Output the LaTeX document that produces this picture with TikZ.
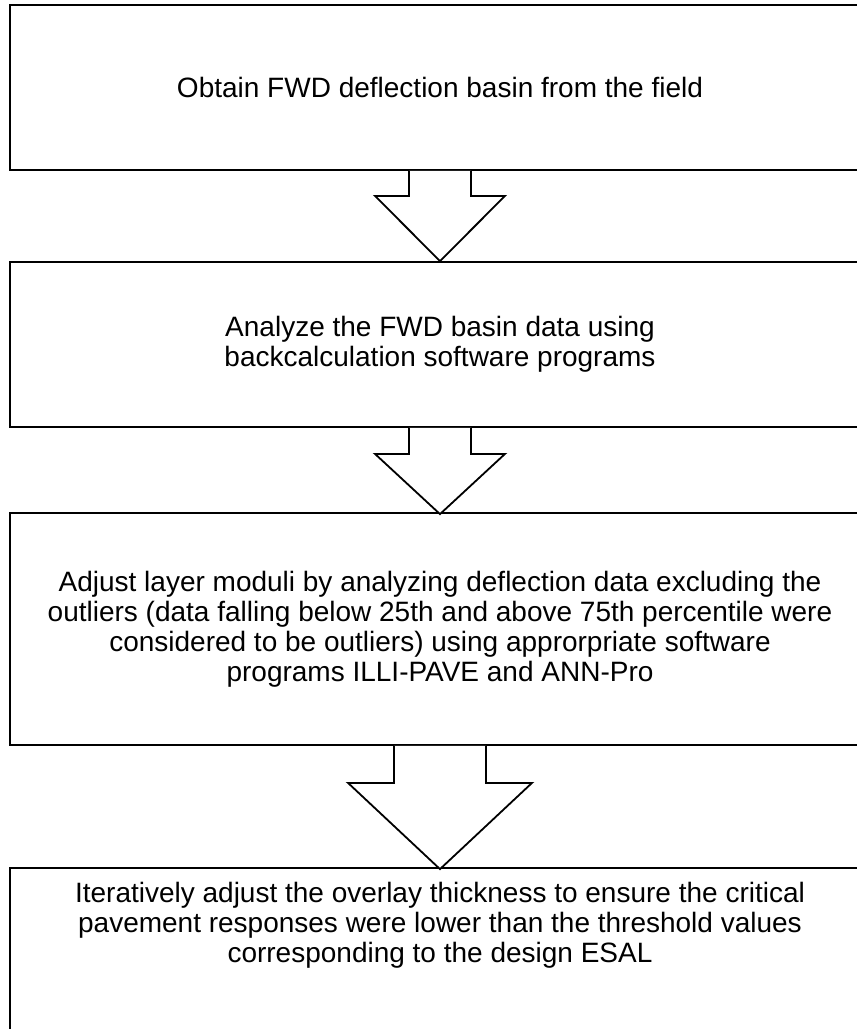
\documentclass[tikz,border=0pt]{standalone}
\usepackage{fontspec}
\setmainfont{Liberation Sans}
\usetikzlibrary{calc}
\begin{document}
\begin{tikzpicture}[x=1pt,y=-1pt,
  box/.style={draw=black,line width=1.8pt,fill=white,inner sep=0pt},
  txt/.style={align=center,font=\fontsize{28}{30}\selectfont,inner sep=0pt},
  barrow/.style={draw=black,line width=1.8pt,fill=white,line join=miter}]
\useasboundingbox (0,0) rectangle (857,1029);
\clip (0,0) rectangle (857,1029);
% boxes
\node[box,minimum width=860pt,minimum height=165pt] (b1) at (440,87.5) {};
\node[box,minimum width=860pt,minimum height=165pt] (b2) at (440,344.5) {};
\node[box,minimum width=860pt,minimum height=232pt] (b3) at (440,629) {};
\node[box,minimum width=860pt,minimum height=200pt] (b4) at (440,968) {};
% texts
\node[txt] (t1) at (b1.center) {Obtain FWD deflection basin from the field};
\node[txt] (t2) at (b2.center) {Analyze the FWD basin data using\\backcalculation software programs};
\node[txt] (t3) at (b3.center) {Adjust layer moduli by analyzing deflection data excluding the\\outliers (data falling below 25th and above 75th percentile were\\considered to be outliers) using approrpriate software\\programs ILLI-PAVE and ANN-Pro};
\node[txt] (t4) at (440,925) {Iteratively adjust the overlay thickness to ensure the critical\\pavement responses were lower than the threshold values\\corresponding to the design ESAL};
% block arrows
\draw[barrow] ($(b1.south)+(-31,0)$) -- ++(0,25) -- ++(-34,0) -- (b2.north) -- ($(b1.south)+(65,25)$) -- ++(-34,0) -- ($(b1.south)+(31,0)$);
\draw[barrow] ($(b2.south)+(-31,0)$) -- ++(0,26) -- ++(-34,0) -- ($(b3.north)+(0,2)$) -- ($(b2.south)+(65,26)$) -- ++(-34,0) -- ($(b2.south)+(31,0)$);
\draw[barrow] ($(b3.south)+(-46,0)$) -- ++(0,37) -- ++(-46,0) -- ($(b4.north)+(0,2)$) -- ($(b3.south)+(92,37)$) -- ++(-46,0) -- ($(b3.south)+(46,0)$);
\end{tikzpicture}
\end{document}
